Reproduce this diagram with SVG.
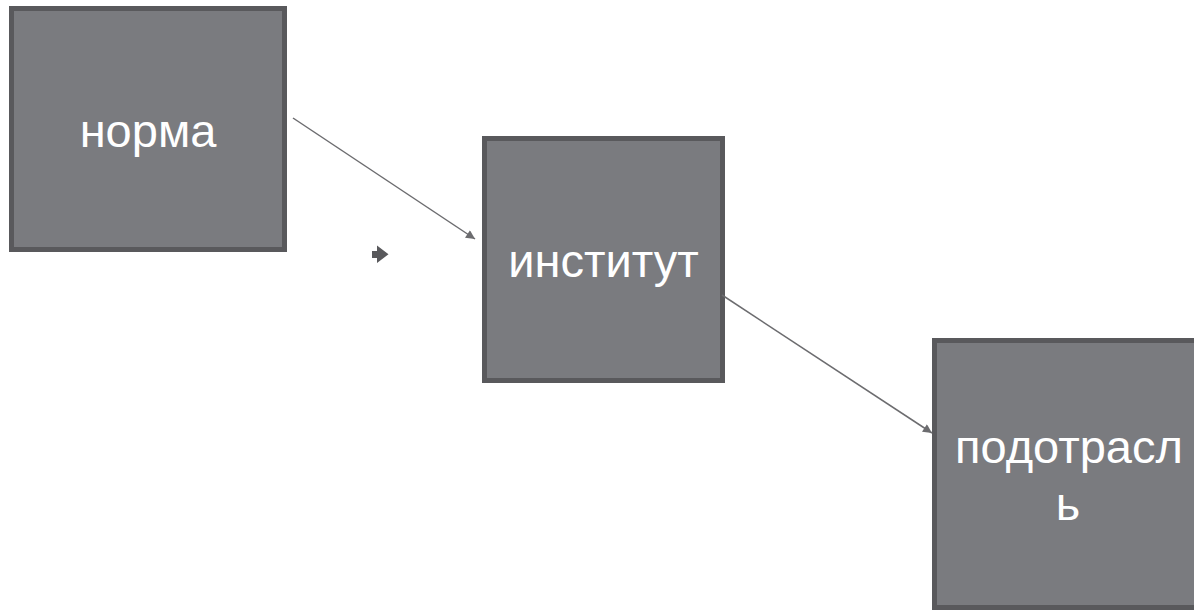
<svg xmlns="http://www.w3.org/2000/svg" width="1194" height="610" viewBox="0 0 1194 610">
<style>
.box{fill:#7a7b7f;stroke:#59595c;stroke-width:5}
.lbl{font-family:"Liberation Sans",Arial,sans-serif;font-size:47px;fill:#ffffff;text-anchor:middle}
.conn{stroke:#6c6c6f;stroke-width:1.5;fill:none}
</style>
<defs>
<marker id="arr" viewBox="0 0 10 10" refX="10" refY="5" markerWidth="10" markerHeight="9" markerUnits="userSpaceOnUse" orient="auto">
<path d="M0,0 L10,5 L0,10 Z" fill="#6c6c6f"/>
</marker>
</defs>
<rect width="1194" height="610" fill="#ffffff"/>
<g id="node-norma">
<rect class="box" x="11.5" y="8.5" width="273" height="241"/>
<text class="lbl" x="148" y="147">норма</text>
</g>
<g id="node-institut">
<rect class="box" x="484.5" y="138.5" width="238" height="242"/>
<text class="lbl" x="603.5" y="277">институт</text>
</g>
<g id="node-podotrasl">
<rect class="box" x="934.5" y="340.5" width="270" height="267"/>
<text class="lbl" x="1069" y="463">подотрасл</text>
<text class="lbl" x="1068" y="520">ь</text>
</g>
<g id="icon">
<path d="M372,251 L377,251 L377,245.5 L388.5,254.3 L377,263 L377,258 L372,258 Z" fill="#59595c"/>
</g>
<g id="connectors">
<line class="conn" x1="293" y1="118" x2="475" y2="239" marker-end="url(#arr)"/>
<line class="conn" x1="722" y1="295" x2="932" y2="433" marker-end="url(#arr)"/>
</g>
</svg>
